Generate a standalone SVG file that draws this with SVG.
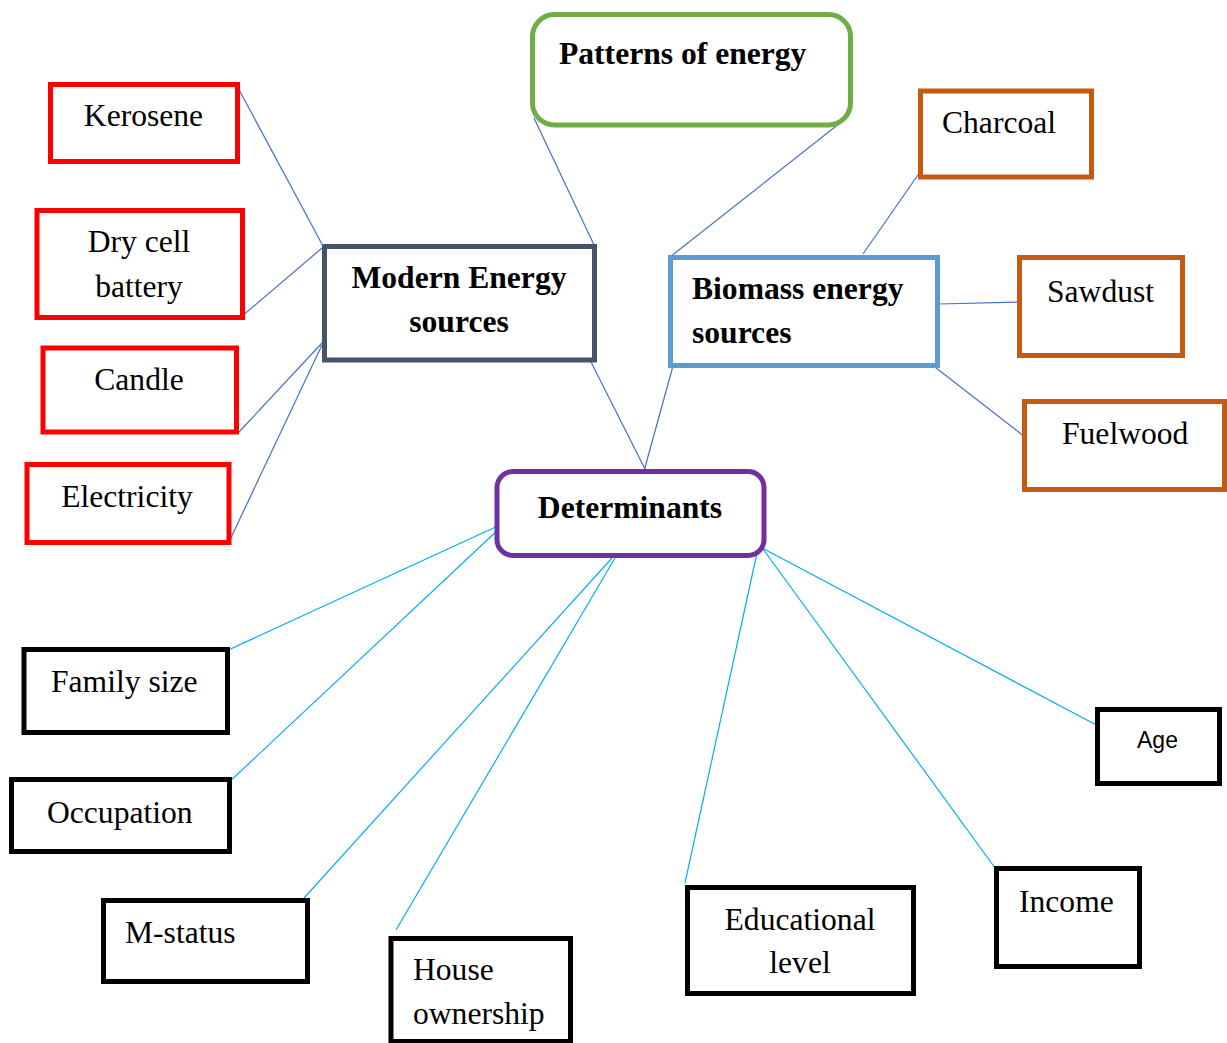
<svg xmlns="http://www.w3.org/2000/svg" width="1227" height="1043" viewBox="0 0 1227 1043">
<style>
.box{fill:#fff;stroke-width:5}
.red{stroke:#FF0000}
.org{stroke:#C55A11}
.blk{stroke:#000}
.t{font-family:"Liberation Serif","Times New Roman",serif;font-size:31.6px;fill:#000}
.b{font-weight:bold}
.m{text-anchor:middle}
.s{font-family:"Liberation Sans",Arial,sans-serif;font-size:23px;fill:#000}
.c1 line{stroke:#4472C4;stroke-width:1.2}
.c2 line{stroke:#00B0F0;stroke-width:1.2}
</style>
<rect width="1227" height="1043" fill="#fff"/>
<g id="connectors">
<g class="c1">
<line x1="237" y1="86" x2="323" y2="246"/>
<line x1="241" y1="317" x2="322" y2="248"/>
<line x1="239" y1="432" x2="322" y2="343"/>
<line x1="228" y1="544" x2="322" y2="345"/>
<line x1="534" y1="118" x2="595" y2="247"/>
<line x1="589" y1="358" x2="646" y2="471"/>
<line x1="840" y1="123" x2="670" y2="257"/>
<line x1="673" y1="366" x2="644" y2="471"/>
<line x1="920" y1="172" x2="863" y2="254"/>
<line x1="938" y1="304" x2="1025" y2="302"/>
<line x1="931" y1="364" x2="1025" y2="437"/>
</g>
<g class="c2">
<line x1="500" y1="525" x2="224" y2="652"/>
<line x1="500" y1="528" x2="226" y2="785"/>
<line x1="612" y1="558" x2="304" y2="898"/>
<line x1="615" y1="558" x2="396" y2="930"/>
<line x1="757" y1="553" x2="685" y2="883"/>
<line x1="763" y1="549" x2="998" y2="872"/>
<line x1="764" y1="549" x2="1102" y2="728"/>
</g>
</g>
<g id="kerosene"><rect class="box red" x="50.5" y="84.5" width="187" height="77"/><text class="t m" x="143.5" y="126">Kerosene</text></g>
<g id="drycell"><rect class="box red" x="37" y="210.5" width="205.5" height="107"/><text class="t m" x="139" y="252">Dry cell</text><text class="t m" x="139" y="297">battery</text></g>
<g id="candle"><rect class="box red" x="43" y="348" width="193.5" height="84"/><text class="t m" x="139" y="390">Candle</text></g>
<g id="electricity"><rect class="box red" x="27" y="464.5" width="202" height="78"/><text class="t m" x="127" y="507">Electricity</text></g>
<g id="modern"><rect class="box" stroke="#44546A" x="324.5" y="246.5" width="270" height="113.5"/><text class="t b m" x="459" y="288">Modern Energy</text><text class="t b m" x="459" y="332">sources</text></g>
<g id="patterns"><rect class="box" stroke="#70AD47" x="532.5" y="14.5" width="318" height="110.5" rx="22"/><text class="t b" x="559" y="64">Patterns of energy</text></g>
<g id="biomass"><rect class="box" stroke="#5B9BD5" x="670.5" y="257.5" width="267" height="108"/><text class="t b" x="692" y="299">Biomass energy</text><text class="t b" x="692" y="343">sources</text></g>
<g id="charcoal"><rect class="box org" x="920.5" y="91" width="171" height="86"/><text class="t" x="942" y="133">Charcoal</text></g>
<g id="sawdust"><rect class="box org" x="1019.5" y="257.5" width="163" height="98"/><text class="t" x="1047" y="302">Sawdust</text></g>
<g id="fuelwood"><rect class="box org" x="1024.5" y="401.5" width="200" height="88"/><text class="t" x="1062" y="444">Fuelwood</text></g>
<g id="determinants"><rect class="box" stroke="#7030A0" x="497" y="471.5" width="267" height="84" rx="16"/><text class="t b m" x="630" y="518">Determinants</text></g>
<g id="familysize"><rect class="box blk" x="24" y="649.5" width="203.5" height="83"/><text class="t" x="51" y="692">Family size</text></g>
<g id="occupation"><rect class="box blk" x="11.5" y="779.5" width="218" height="72"/><text class="t" x="47" y="823">Occupation</text></g>
<g id="mstatus"><rect class="box blk" x="103.5" y="900.5" width="204" height="81"/><text class="t" x="125" y="943">M-status</text></g>
<g id="house"><rect class="box blk" x="391" y="938.5" width="179.5" height="103"/><text class="t" x="413" y="980">House</text><text class="t" x="413" y="1024">ownership</text></g>
<g id="educational"><rect class="box blk" x="687.5" y="887.5" width="226" height="106"/><text class="t m" x="800" y="930">Educational</text><text class="t m" x="800" y="973">level</text></g>
<g id="income"><rect class="box blk" x="996.5" y="868.5" width="143" height="98"/><text class="t" x="1019" y="912">Income</text></g>
<g id="age"><rect class="box blk" x="1097.5" y="709.5" width="122" height="74"/><text class="s" x="1137" y="748">Age</text></g>
</svg>
